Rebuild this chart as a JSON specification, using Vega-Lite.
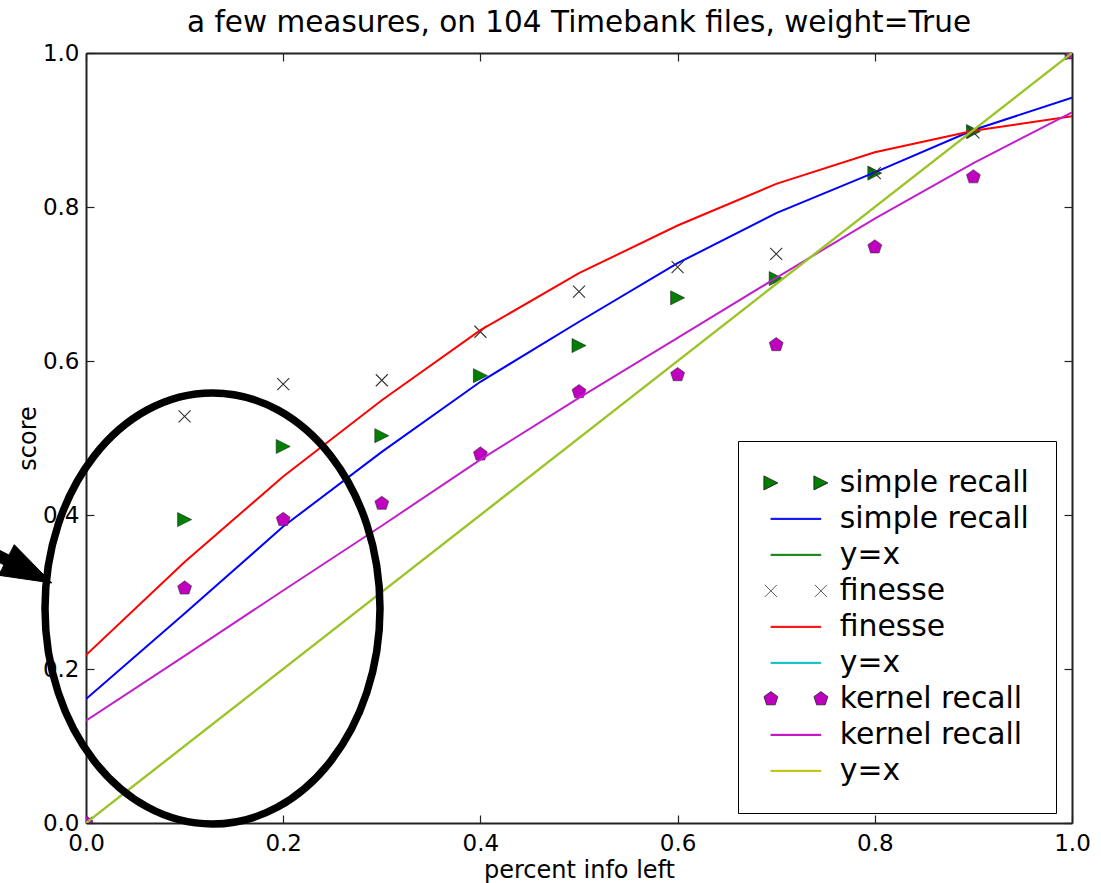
{
  "$schema": "https://vega.github.io/schema/vega-lite/v6.json",
  "width": 986,
  "height": 770,
  "autosize": {"type": "none"},
  "padding": {"left": 86, "top": 53, "right": 29, "bottom": 60},
  "background": "white",
  "title": {
    "text": "a few measures, on 104 Timebank files, weight=True",
    "font": "DejaVu Sans",
    "fontSize": 29.5,
    "fontWeight": "normal",
    "color": "#000",
    "anchor": "middle",
    "frame": "group",
    "offset": 4
  },
  "datasets": {
    "markers": [
      {"measure": "simple recall", "x": 0.0, "y": 0.0},
      {"measure": "simple recall", "x": 0.1, "y": 0.394},
      {"measure": "simple recall", "x": 0.2, "y": 0.489},
      {"measure": "simple recall", "x": 0.3, "y": 0.503},
      {"measure": "simple recall", "x": 0.4, "y": 0.581},
      {"measure": "simple recall", "x": 0.5, "y": 0.620},
      {"measure": "simple recall", "x": 0.6, "y": 0.682},
      {"measure": "simple recall", "x": 0.7, "y": 0.707},
      {"measure": "simple recall", "x": 0.8, "y": 0.844},
      {"measure": "simple recall", "x": 0.9, "y": 0.898},
      {"measure": "simple recall", "x": 1.0, "y": 1.0},
      {"measure": "finesse", "x": 0.0, "y": 0.0},
      {"measure": "finesse", "x": 0.1, "y": 0.528},
      {"measure": "finesse", "x": 0.2, "y": 0.570},
      {"measure": "finesse", "x": 0.3, "y": 0.575},
      {"measure": "finesse", "x": 0.4, "y": 0.638},
      {"measure": "finesse", "x": 0.5, "y": 0.690},
      {"measure": "finesse", "x": 0.6, "y": 0.722},
      {"measure": "finesse", "x": 0.7, "y": 0.739},
      {"measure": "finesse", "x": 0.8, "y": 0.844},
      {"measure": "finesse", "x": 0.9, "y": 0.897},
      {"measure": "finesse", "x": 1.0, "y": 1.0},
      {"measure": "kernel recall", "x": 0.0, "y": 0.0},
      {"measure": "kernel recall", "x": 0.1, "y": 0.305},
      {"measure": "kernel recall", "x": 0.2, "y": 0.394},
      {"measure": "kernel recall", "x": 0.3, "y": 0.415},
      {"measure": "kernel recall", "x": 0.4, "y": 0.479},
      {"measure": "kernel recall", "x": 0.5, "y": 0.560},
      {"measure": "kernel recall", "x": 0.6, "y": 0.582},
      {"measure": "kernel recall", "x": 0.7, "y": 0.621},
      {"measure": "kernel recall", "x": 0.8, "y": 0.748},
      {"measure": "kernel recall", "x": 0.9, "y": 0.839},
      {"measure": "kernel recall", "x": 1.0, "y": 1.0}
    ],
    "fits": [
      {"series": "simple recall", "x": 0.0, "y": 0.161},
      {"series": "simple recall", "x": 0.1, "y": 0.272},
      {"series": "simple recall", "x": 0.2, "y": 0.385},
      {"series": "simple recall", "x": 0.3, "y": 0.482},
      {"series": "simple recall", "x": 0.4, "y": 0.573},
      {"series": "simple recall", "x": 0.5, "y": 0.651},
      {"series": "simple recall", "x": 0.6, "y": 0.727},
      {"series": "simple recall", "x": 0.7, "y": 0.792},
      {"series": "simple recall", "x": 0.8, "y": 0.845},
      {"series": "simple recall", "x": 0.9, "y": 0.900},
      {"series": "simple recall", "x": 1.0, "y": 0.942},
      {"series": "finesse", "x": 0.0, "y": 0.218},
      {"series": "finesse", "x": 0.1, "y": 0.339},
      {"series": "finesse", "x": 0.2, "y": 0.450},
      {"series": "finesse", "x": 0.3, "y": 0.549},
      {"series": "finesse", "x": 0.4, "y": 0.640},
      {"series": "finesse", "x": 0.5, "y": 0.714},
      {"series": "finesse", "x": 0.6, "y": 0.776},
      {"series": "finesse", "x": 0.7, "y": 0.830},
      {"series": "finesse", "x": 0.8, "y": 0.871},
      {"series": "finesse", "x": 0.9, "y": 0.899},
      {"series": "finesse", "x": 1.0, "y": 0.918},
      {"series": "kernel recall", "x": 0.0, "y": 0.133},
      {"series": "kernel recall", "x": 0.1, "y": 0.217},
      {"series": "kernel recall", "x": 0.2, "y": 0.302},
      {"series": "kernel recall", "x": 0.3, "y": 0.386},
      {"series": "kernel recall", "x": 0.4, "y": 0.472},
      {"series": "kernel recall", "x": 0.5, "y": 0.552},
      {"series": "kernel recall", "x": 0.6, "y": 0.630},
      {"series": "kernel recall", "x": 0.7, "y": 0.708},
      {"series": "kernel recall", "x": 0.8, "y": 0.785},
      {"series": "kernel recall", "x": 0.9, "y": 0.857},
      {"series": "kernel recall", "x": 1.0, "y": 0.923},
      {"series": "y=x", "x": 0.0, "y": 0.0},
      {"series": "y=x", "x": 1.0, "y": 1.0}
    ],
    "annotation": [
      {"note": "circled region", "x": 0.1283, "y": 0.2786}
    ],
    "legendkeys": [
      {"key": "a"}, {"key": "b"}, {"key": "c"}, {"key": "d"}, {"key": "e"},
      {"key": "f"}, {"key": "g"}, {"key": "h"}, {"key": "i"}
    ]
  },
  "resolve": {"axis": {"x": "independent", "y": "independent"}},
  "layer": [
    {
      "data": {"name": "markers"},
      "transform": [{"filter": "datum.measure == 'simple recall'"}],
      "mark": {"type": "point", "shape": "M-1,-1L1,0L-1,1Z", "size": 196, "filled": true, "fill": "#007f00", "stroke": "#222", "strokeWidth": 0.6, "opacity": 1, "clip": true},
      "encoding": {
        "x": {"field": "x", "type": "quantitative", "scale": {"domain": [0, 1], "nice": false, "zero": false},
          "axis": {"orient": "bottom", "values": [0, 0.2, 0.4, 0.6, 0.8, 1.0], "format": ".1f", "title": "percent info left", "labelFlush": false, "tickSize": -8, "labelPadding": 17, "titlePadding": 3, "labelOverlap": false}},
        "y": {"field": "y", "type": "quantitative", "scale": {"domain": [0, 1], "nice": false, "zero": false},
          "axis": {"orient": "left", "values": [0, 0.2, 0.4, 0.6, 0.8, 1.0], "format": ".1f", "title": "score", "labelFlush": false, "tickSize": -8, "labelPadding": 15, "titlePadding": 2, "labelOverlap": false}}
      }
    },
    {
      "data": {"name": "fits"},
      "transform": [{"filter": "datum.series == 'simple recall'"}],
      "mark": {"type": "line", "stroke": "#0000ff", "strokeWidth": 2, "clip": true},
      "encoding": {
        "x": {"field": "x", "type": "quantitative", "scale": {"domain": [0, 1], "nice": false, "zero": false},
          "axis": {"orient": "top", "values": [0, 0.2, 0.4, 0.6, 0.8, 1.0], "labels": false, "title": null, "tickSize": -8}},
        "y": {"field": "y", "type": "quantitative", "scale": {"domain": [0, 1], "nice": false, "zero": false},
          "axis": {"orient": "right", "values": [0, 0.2, 0.4, 0.6, 0.8, 1.0], "labels": false, "title": null, "tickSize": -8}}
      }
    },
    {
      "data": {"name": "markers"},
      "transform": [{"filter": "datum.measure == 'finesse'"}],
      "mark": {"type": "point", "shape": "M-1,-1L1,1M-1,1L1,-1", "size": 144, "filled": false, "stroke": "#333", "strokeWidth": 1.1, "opacity": 1, "clip": true},
      "encoding": {
        "x": {"field": "x", "type": "quantitative", "scale": {"domain": [0, 1], "nice": false, "zero": false}, "axis": null},
        "y": {"field": "y", "type": "quantitative", "scale": {"domain": [0, 1], "nice": false, "zero": false}, "axis": null}
      }
    },
    {
      "data": {"name": "fits"},
      "transform": [{"filter": "datum.series == 'finesse'"}],
      "mark": {"type": "line", "stroke": "#ff0000", "strokeWidth": 2, "clip": true},
      "encoding": {
        "x": {"field": "x", "type": "quantitative", "axis": null},
        "y": {"field": "y", "type": "quantitative", "axis": null}
      }
    },
    {
      "data": {"name": "markers"},
      "transform": [{"filter": "datum.measure == 'kernel recall'"}],
      "mark": {"type": "point", "shape": "M0,-1L0.951,-0.309L0.588,0.809L-0.588,0.809L-0.951,-0.309Z", "size": 213, "filled": true, "fill": "#bf00bf", "stroke": "#333", "strokeWidth": 0.6, "opacity": 1, "clip": true},
      "encoding": {
        "x": {"field": "x", "type": "quantitative", "axis": null},
        "y": {"field": "y", "type": "quantitative", "axis": null}
      }
    },
    {
      "data": {"name": "fits"},
      "transform": [{"filter": "datum.series == 'kernel recall'"}],
      "mark": {"type": "line", "stroke": "#c020c8", "strokeWidth": 2, "clip": true},
      "encoding": {
        "x": {"field": "x", "type": "quantitative", "axis": null},
        "y": {"field": "y", "type": "quantitative", "axis": null}
      }
    },
    {
      "data": {"name": "fits"},
      "transform": [{"filter": "datum.series == 'y=x'"}],
      "mark": {"type": "line", "stroke": "#9cc42a", "strokeWidth": 2.4, "clip": true},
      "encoding": {
        "x": {"field": "x", "type": "quantitative", "axis": null},
        "y": {"field": "y", "type": "quantitative", "axis": null}
      }
    },
    {
      "data": {"name": "legendkeys"},
      "transform": [{"filter": "datum.key == 'none'"}],
      "mark": {"type": "point", "filled": true, "opacity": 1, "size": 400},
      "encoding": {
        "shape": {
          "field": "key", "type": "nominal",
          "scale": {
            "domain": ["a", "b", "c", "d", "e", "f", "g", "h", "i"],
            "range": [
              "M-1.6,-0.7L-1.6,0.7L-0.2,0ZM3.4,-0.7L3.4,0.7L4.8,0Z",
              "M-0.9,-0.06L4.1,-0.06L4.1,0.06L-0.9,0.06Z",
              "M-0.9,-0.06L4.1,-0.06L4.1,0.06L-0.9,0.06Z",
              "M-1.5,-0.6L-0.3,0.6M-1.5,0.6L-0.3,-0.6M3.5,-0.6L4.7,0.6M3.5,0.6L4.7,-0.6",
              "M-0.9,-0.06L4.1,-0.06L4.1,0.06L-0.9,0.06Z",
              "M-0.9,-0.06L4.1,-0.06L4.1,0.06L-0.9,0.06Z",
              "M-0.9,-0.73L-0.206,-0.226L-0.471,0.591L-1.329,0.591L-1.594,-0.226ZM4.1,-0.73L4.794,-0.226L4.529,0.591L3.671,0.591L3.406,-0.226Z",
              "M-0.9,-0.06L4.1,-0.06L4.1,0.06L-0.9,0.06Z",
              "M-0.9,-0.06L4.1,-0.06L4.1,0.06L-0.9,0.06Z"
            ]
          },
          "legend": {
            "orient": "none", "legendX": 652, "legendY": 388, "title": null,
            "padding": 27, "strokeColor": "#000", "fillColor": "#fff",
            "labelFont": "DejaVu Sans", "labelFontSize": 29.8, "labelColor": "#000", "labelLimit": 600,
            "labelOffset": 45, "rowPadding": 5, "symbolSize": 400, "symbolStrokeWidth": 0.8, "symbolOpacity": 1,
            "labelExpr": "datum.label == 'a' || datum.label == 'b' ? 'simple recall' : datum.label == 'd' || datum.label == 'e' ? 'finesse' : datum.label == 'g' || datum.label == 'h' ? 'kernel recall' : 'y=x'"
          }
        },
        "fill": {
          "field": "key", "type": "nominal",
          "scale": {
            "domain": ["a", "b", "c", "d", "e", "f", "g", "h", "i"],
            "range": ["#007f00", "#0000ff", "#008000", "transparent", "#ff0000", "#00bfbf", "#bf00bf", "#bf00bf", "#bfbf00"]
          },
          "legend": {
            "orient": "none", "legendX": 652, "legendY": 388, "title": null,
            "padding": 27, "strokeColor": "#000", "fillColor": "#fff",
            "labelFont": "DejaVu Sans", "labelFontSize": 29.8, "labelColor": "#000", "labelLimit": 600,
            "labelOffset": 45, "rowPadding": 5, "symbolSize": 400, "symbolStrokeWidth": 0.8, "symbolOpacity": 1,
            "labelExpr": "datum.label == 'a' || datum.label == 'b' ? 'simple recall' : datum.label == 'd' || datum.label == 'e' ? 'finesse' : datum.label == 'g' || datum.label == 'h' ? 'kernel recall' : 'y=x'"
          }
        },
        "stroke": {
          "field": "key", "type": "nominal",
          "scale": {
            "domain": ["a", "b", "c", "d", "e", "f", "g", "h", "i"],
            "range": ["#111111", "#0000ff", "#008000", "#333333", "#ff0000", "#00bfbf", "#222222", "#bf00bf", "#bfbf00"]
          },
          "legend": {
            "orient": "none", "legendX": 652, "legendY": 388, "title": null,
            "padding": 27, "strokeColor": "#000", "fillColor": "#fff",
            "labelFont": "DejaVu Sans", "labelFontSize": 29.8, "labelColor": "#000", "labelLimit": 600,
            "labelOffset": 45, "rowPadding": 5, "symbolSize": 400, "symbolStrokeWidth": 0.8, "symbolOpacity": 1,
            "labelExpr": "datum.label == 'a' || datum.label == 'b' ? 'simple recall' : datum.label == 'd' || datum.label == 'e' ? 'finesse' : datum.label == 'g' || datum.label == 'h' ? 'kernel recall' : 'y=x'"
          }
        }
      }
    },
    {
      "data": {"name": "annotation"},
      "mark": {"type": "point", "shape": "M-167.5,0A167.5,215.5 0 1,0 167.5,0A167.5,215.5 0 1,0 -167.5,0Z", "size": 4, "filled": false, "stroke": "#000", "strokeWidth": 7.5, "opacity": 1},
      "encoding": {
        "x": {"field": "x", "type": "quantitative", "axis": null},
        "y": {"field": "y", "type": "quantitative", "axis": null}
      }
    },
    {
      "data": {"name": "annotation"},
      "mark": {"type": "point", "shape": "M-160.8,-25.5L-213.8,-33.2L-208.5,-43.6L-244.1,-61.8L-239.1,-71.6L-203.5,-53.4L-198.2,-63.8Z", "size": 4, "filled": true, "fill": "#000", "stroke": "#000", "strokeWidth": 1, "opacity": 1},
      "encoding": {
        "x": {"field": "x", "type": "quantitative", "axis": null},
        "y": {"field": "y", "type": "quantitative", "axis": null}
      }
    }
  ],
  "config": {
    "view": {"stroke": null},
    "axis": {
      "domainColor": "#222",
      "domainWidth": 2,
      "tickColor": "#222",
      "tickWidth": 1.2,
      "grid": false,
      "labelFont": "DejaVu Sans",
      "labelFontSize": 23,
      "labelColor": "#000",
      "titleFont": "DejaVu Sans",
      "titleFontSize": 24,
      "titleFontWeight": "normal",
      "titleColor": "#000"
    }
  }
}
